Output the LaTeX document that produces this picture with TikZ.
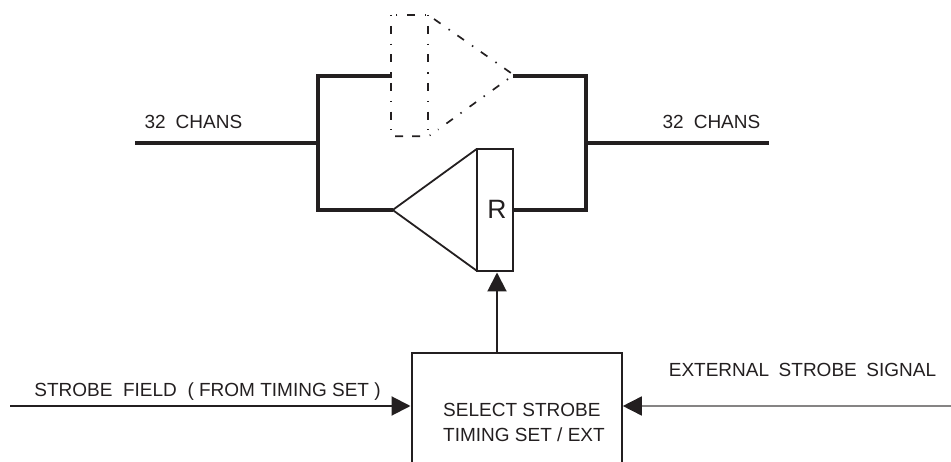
\documentclass[tikz,border=0pt]{standalone}
\usepackage{fontspec}
\setmainfont{Liberation Sans}
\usetikzlibrary{arrows.meta}
\definecolor{ink}{HTML}{231F20}
\tikzset{
  bus/.style={draw=ink,line width=3.8pt,line join=miter},
  thin box/.style={draw=ink,line width=1.8pt},
  ghostline/.style={draw=ink,line width=1.7pt},
  ghostdot/.style={ghostline,dash pattern=on 1.5pt off 9.3pt on 8pt off 9.8pt},
  ghostdash/.style={ghostline,dash pattern=on 8pt off 9.8pt on 1.5pt off 9.3pt},
  sig/.style={draw=ink,line width=2pt,-{Triangle[length=19pt,width=19pt,color=ink]}},
  lab/.style={inner sep=0pt,text=ink,font=\fontsize{19pt}{24pt}\selectfont}
}
\begin{document}
\begin{tikzpicture}[x=1pt,y=-1pt]
\useasboundingbox (0,0) rectangle (951,462);
% free ends and junctions
\coordinate (inL) at (135,142.7);
\coordinate (jL) at (318,142.7);
\coordinate (outR) at (769,142.7);
\coordinate (jR) at (586,142.7);
\coordinate (ghostIn) at (391.7,76);
\coordinate (ghostOut) at (512.7,76);
\coordinate (recvTip) at (392.7,210);
\coordinate (strobeL) at (10,406);
\coordinate (strobeR) at (951,406);
% R block
\node[thin box,minimum width=36.6pt,minimum height=121.7pt,inner sep=0pt,outer sep=0pt,anchor=north west,
  font=\fontsize{26.5pt}{26.5pt}\selectfont,text=ink] (R) at (476.7,149) {\hspace{4pt}R};
\draw[thin box,line join=miter] (recvTip) -- (R.north west) (recvTip) -- (R.south west);
% buses
\draw[bus] (inL) -- (jL);
\draw[bus] (jR) -- (outR);
\draw[bus] (ghostIn) -| (jL) |- (recvTip);
\draw[bus] (ghostOut) -| (jR) |- (recvTip -| R.east);
% ghost driver
\draw[ghostdot] (426,14.7) -- (392,14.7);
\draw[ghostdot] (391.3,15) -- (391.3,130);
\draw[ghostdot] (427.7,15) -- (427.7,130);
\draw[ghostdash] (395,136.3) -- (412,136.3) (412,136.3) -- (426,136.3) .. controls (428,136.3) and (429.5,136) .. (430.5,135);
\draw[ghostdash] (434,19) -- (511,73);
\draw[ghostdot] (508,79) -- (438,129.6);
% select box (runs off the bottom edge)
\coordinate (bBL) at (411.7,462);
\coordinate (bBR) at (621.7,462);
\coordinate (bTL) at (411.7,352.7);
\coordinate (bTR) at (621.7,352.7);
\coordinate (bTop) at (497,352.7);
\coordinate (bL) at (410.5,406);
\coordinate (bR) at (622.8,406);
\draw[thin box,line join=miter] (bBL) -- (bTL) -- (bTR) -- (bBR);
\node[lab,anchor=base west,align=left] (sel) at (443,417) {SELECT STROBE};
\node[lab,anchor=base west,align=left] (sel2) at (443,441) {TIMING SET / EXT};
% signals
\coordinate (rArrow) at (497,272.5);
\draw[sig] (bTop) -- (rArrow);
\draw[sig] (strobeL) -- (bL);
\draw[sig,draw=ink!55,line width=1.6pt] (strobeR) -- (bR);
% labels
\node[lab,anchor=base] (l1) at (193.4,128.5) {32\hspace{10pt}CHANS};
\node[lab,anchor=base] (l2) at (711.5,128.5) {32\hspace{10pt}CHANS};
\node[lab,anchor=base] (l3) at (207.5,396.7) {STROBE\hspace{10.6pt}FIELD\hspace{10.6pt}( FROM TIMING SET )};
\node[lab,anchor=base] (l4) at (802.5,376.7) {EXTERNAL\hspace{9.6pt}STROBE\hspace{9.6pt}SIGNAL};
\end{tikzpicture}
\end{document}
